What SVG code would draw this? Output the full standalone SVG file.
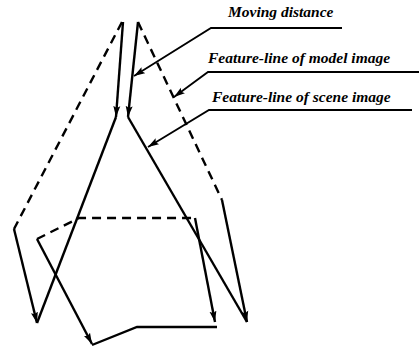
<svg xmlns="http://www.w3.org/2000/svg" width="419" height="351" viewBox="0 0 419 351">
<style>
.s{fill:none;stroke:#000;stroke-width:2.4;stroke-linejoin:miter}
.d{fill:none;stroke:#000;stroke-width:2.4;stroke-dasharray:9,6}
.l{fill:none;stroke:#000;stroke-width:1.8}
.t{font-family:"Liberation Serif","Times New Roman",serif;font-style:italic;font-weight:bold;font-size:15.5px;fill:#000}
</style>
<defs>
<marker id="a" markerUnits="userSpaceOnUse" markerWidth="12" markerHeight="8" refX="11" refY="4" orient="auto">
<path d="M0,0.5 L11,4 L0,7.5 L2,4 Z" fill="#000"/>
</marker>
</defs>
<rect width="419" height="351" fill="#fff"/>
<g id="connectors">
<g id="model-line">
<path class="d" d="M122,22 L14,229"/>
<path class="d" d="M138,22 L222,200"/>
<path class="d" d="M37,239 L79,218 L195,218"/>
</g>
<g id="moving">
<path class="s" d="M123,22 L116,117" marker-end="url(#a)"/>
<path class="s" d="M138,22 L128,117" marker-end="url(#a)"/>
<path class="s" d="M14,229 L37,323" marker-end="url(#a)"/>
<path class="s" d="M222,200 L247,322" marker-end="url(#a)"/>
<path class="s" d="M195,218 L215,322" marker-end="url(#a)"/>
<path class="s" d="M37,239 L92,344" marker-end="url(#a)"/>
</g>
<g id="scene-line">
<path class="s" d="M116,117 L37,323"/>
<path class="s" d="M128,117 L247,322"/>
<path class="s" d="M92,345 L137,327 L217,327"/>
</g>
<g id="leaders">
<path class="l" d="M342,28 L211,28 L134,76" marker-end="url(#a)"/>
<path class="l" d="M419,72 L208,72 L174,97" marker-end="url(#a)"/>
<path class="l" d="M412,110 L209,110 L148,147" marker-end="url(#a)"/>
</g>
</g>
<g id="label-moving"><text class="t" x="228" y="17">Moving distance</text></g>
<g id="label-model"><text class="t" x="208" y="63">Feature-line of model image</text></g>
<g id="label-scene"><text class="t" x="212" y="102">Feature-line of scene image</text></g>
</svg>
